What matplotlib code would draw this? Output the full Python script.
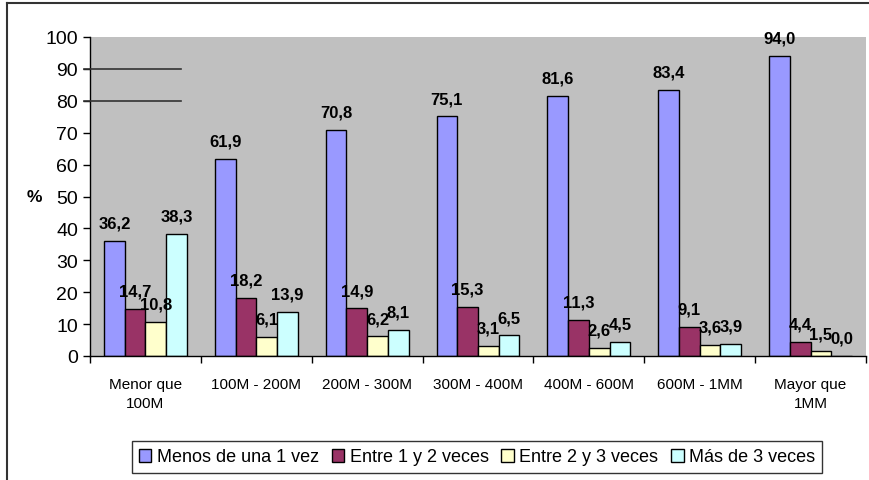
import matplotlib
matplotlib.use("Agg")
import matplotlib.pyplot as plt
from matplotlib.lines import Line2D
import numpy as np

plt.rcParams['font.family'] = ['Liberation Sans', 'DejaVu Sans']

categories = ["Menor que\n100M", "100M - 200M", "200M - 300M", "300M - 400M",
              "400M - 600M", "600M - 1MM", "Mayor que\n1MM"]
series_names = ["Menos de una 1 vez", "Entre 1 y 2 veces", "Entre 2 y 3 veces", "Más de 3 veces"]
menos_1 = [36.2, 61.9, 70.8, 75.1, 81.6, 83.4, 94.0]
entre_1_2 = [14.7, 18.2, 14.9, 15.3, 11.3, 9.1, 4.4]
entre_2_3 = [10.8, 6.1, 6.2, 3.1, 2.6, 3.6, 1.5]
mas_3 = [38.3, 13.9, 8.1, 6.5, 4.5, 3.9, 0.0]
y_ticks = [0, 10, 20, 30, 40, 50, 60, 70, 80, 90, 100]

series = [menos_1, entre_1_2, entre_2_3, mas_3]
colors = ["#9999FF", "#993366", "#FFFFCC", "#CCFFFF"]

fig = plt.figure(figsize=(8.69, 4.81), dpi=100)
ax = fig.add_axes([90/869, 1 - 357/481, 776/869, (357-38)/481])
ax.set_facecolor("#C0C0C0")

x = np.arange(len(categories))
w = 0.187
for i, (vals, c, name) in enumerate(zip(series, colors, series_names)):
    pos = x + (i - 1.5) * w
    ax.bar(pos, vals, width=w, color=c, edgecolor="black", linewidth=1.0, label=name, zorder=2)
    for px, v in zip(pos, vals):
        ax.annotate(f"{v:.1f}".replace(".", ","), xy=(px, v), xytext=(0, 9.5),
                    textcoords="offset points", ha="center", va="baseline",
                    fontsize=12, fontweight="bold", zorder=3)

ax.set_xlim(-0.5, len(categories) - 0.5)
ax.set_ylim(0, 100)
ax.set_yticks(y_ticks)
ax.set_yticklabels([str(t) for t in y_ticks], fontsize=14)
ax.tick_params(axis="y", direction="out", length=5, width=1, pad=3.5)

ax.set_xticks(np.arange(len(categories) + 1) - 0.5)
ax.set_xticklabels([])
ax.set_xticks(x, minor=True)
ax.set_xticklabels(categories, minor=True, fontsize=11, linespacing=1.45)
ax.tick_params(axis="x", which="major", direction="out", length=5, width=1)
ax.tick_params(axis="x", which="minor", length=0, pad=15)

for s in ["top", "right"]:
    ax.spines[s].set_visible(False)
ax.spines["left"].set_linewidth(1.0)
ax.spines["bottom"].set_linewidth(1.0)

ax.set_ylabel("%", rotation=0, fontsize=12.5, fontweight="bold", labelpad=8, va="center")

# stray horizontal lines at 90 and 80
for yv in (90, 80):
    ax.add_line(Line2D([-6/776, 91/776], [yv/100, yv/100], transform=ax.transAxes,
                       color="#333333", linewidth=1.2, clip_on=False, zorder=4))

leg = ax.legend(loc="center", bbox_to_anchor=(477/869, 1 - 458/481),
                bbox_transform=fig.transFigure, ncol=4, fontsize=13,
                frameon=True, fancybox=False, edgecolor="black", handlelength=0.7,
                handleheight=0.7, handletextpad=0.3, columnspacing=0.7, borderpad=0.4)
leg.get_frame().set_linewidth(1.0)

# figure border (top and left visible)
fig.add_artist(Line2D([7/869, 1], [1 - 4/481, 1 - 4/481], transform=fig.transFigure,
                      color="#333333", linewidth=1.5))
fig.add_artist(Line2D([7/869, 7/869], [0, 1 - 4/481], transform=fig.transFigure,
                      color="#333333", linewidth=1.5))

fig.savefig("out.png", dpi=100, facecolor="white")
